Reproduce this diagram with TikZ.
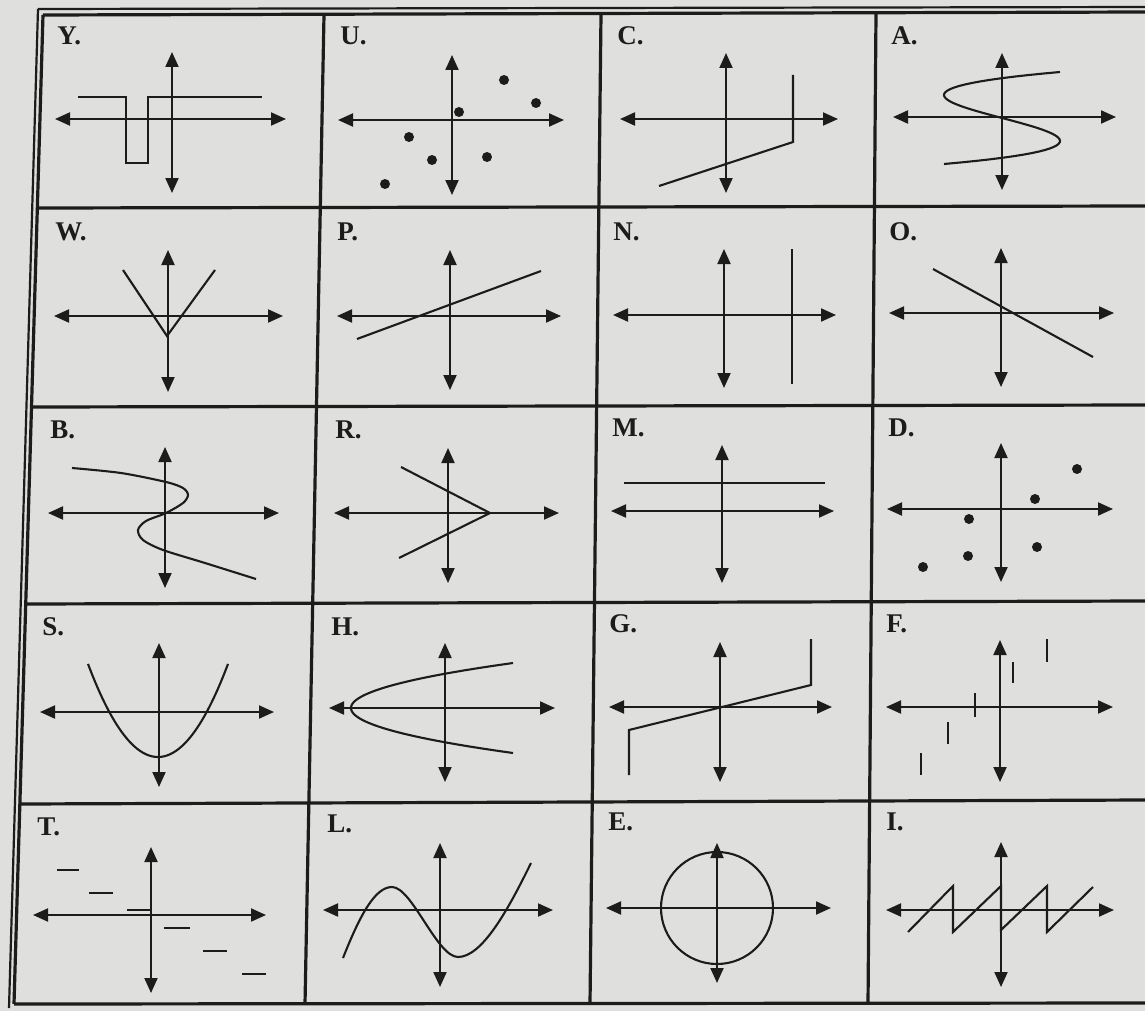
\documentclass[tikz,border=0pt]{standalone}
\usepackage{fontspec}
\setmainfont{Liberation Serif}
\usetikzlibrary{arrows.meta}
\definecolor{paper}{RGB}{223,223,221}
\definecolor{ink}{RGB}{28,28,28}
\begin{document}
\begin{tikzpicture}[x=0.5pt,y=-0.5pt,
    >={Triangle[length=7.5pt,width=6.5pt]},
    axis/.style={<->,draw=ink,line width=1pt},
    curve/.style={draw=ink,line width=1.05pt},
    rule/.style={draw=ink,line width=1.6pt},
    dot/.style={fill=ink},
    lbl/.style={anchor=base west,inner sep=0pt,text=ink,
        font=\fontsize{13.5}{16}\selectfont\bfseries}]

        % Paper
        \fill[paper] (0,0) rectangle (1145,1011);
        \useasboundingbox (0,0) rectangle (1145,1011);

        % Table rules, double outer frame
        \draw[rule,line width=1.1pt] (38,9) -- (1145,7);
        \draw[rule,line width=1.1pt] (38,9) -- (9,1008);
        \draw[rule] (43,15) -- (1145,12);
        \draw[rule] (37,208) -- (1145,206);
        \draw[rule] (32,407) -- (1145,405);
        \draw[rule] (26,604) -- (1145,601);
        \draw[rule] (20,804) -- (1145,800);
        \draw[rule] (14,1004) -- (1145,1003);
        \draw[rule] (43,15) -- (14,1004);
        \draw[rule] (324,15) -- (305,1004);
        \draw[rule] (601,14) -- (590,1004);
        \draw[rule] (876,13) -- (868,1004);

        % Y
        \node[lbl] (lblY) at (57,45) {Y.};
        \draw[axis] (172,52) -- (172,193);
        \draw[axis] (55,119) -- (286,119);
        \draw[curve] (78,97) -- (126,97) -- (126,163) -- (148,163) -- (148,97) -- (262,97);

        % U
        \node[lbl] (lblU) at (340,45) {U.};
        \draw[axis] (452,55) -- (452,195);
        \draw[axis] (338,120) -- (564,120);
        \foreach \p in {(504,80),(536,103),(459,112),(409,137),(432,160),(487,157),(385,184)}
            \fill[dot] \p circle (2.5pt);

        % C
        \node[lbl] (lblC) at (617,45) {C.};
        \draw[axis] (726,53) -- (726,193);
        \draw[axis] (620,119) -- (838,119);
        \draw[curve] (659,186) -- (793,142) -- (793,75);

        % A
        \node[lbl] (lblA) at (891,45) {A.};
        \draw[axis] (1002,53) -- (1002,190);
        \draw[axis] (893,117) -- (1116,117);
        \draw[curve] plot[domain=-2:2,samples=60,variable=\u]
            ({1002-29*(\u*\u*\u-3*\u)},{118+23*\u});

        % W
        \node[lbl] (lblW) at (55,240) {W.};
        \draw[axis] (168,250) -- (168,392);
        \draw[axis] (54,316) -- (283,316);
        \draw[curve] (123,270) -- (167,336) -- (215,270);

        % P
        \node[lbl] (lblP) at (337,240) {P.};
        \draw[axis] (450,250) -- (450,390);
        \draw[axis] (337,316) -- (561,316);
        \draw[curve] (357,339) -- (541,271);

        % N
        \node[lbl] (lblN) at (613,240) {N.};
        \draw[axis] (724,249) -- (724,388);
        \draw[axis] (613,315) -- (836,315);
        \draw[curve] (792,249) -- (792,384);

        % O
        \node[lbl] (lblO) at (889,240) {O.};
        \draw[axis] (1001,248) -- (1001,387);
        \draw[axis] (889,313) -- (1114,313);
        \draw[curve] (933,269) -- (1093,357);

        % B
        \node[lbl] (lblB) at (50,438) {B.};
        \draw[axis] (165,447) -- (165,588);
        \draw[axis] (48,513) -- (279,513);
        \draw[curve] plot[smooth] coordinates {(72,468) (121,473) (166,482) (183,488)
            (188,495) (183,503) (166,513) (146,521) (138,530) (143,540) (163,550)
            (205,563) (256,579)};

        % R
        \node[lbl] (lblR) at (335,438) {R.};
        \draw[axis] (448,448) -- (448,583);
        \draw[axis] (334,513) -- (559,513);
        \draw[curve] (401,467) -- (490,513) -- (399,558);

        % M
        \node[lbl] (lblM) at (612,436) {M.};
        \draw[axis] (722,445) -- (722,583);
        \draw[axis] (611,511) -- (834,511);
        \draw[curve] (624,483) -- (825,483);

        % D
        \node[lbl] (lblD) at (888,436) {D.};
        \draw[axis] (1001,443) -- (1001,582);
        \draw[axis] (887,509) -- (1113,509);
        \foreach \p in {(1077,469),(1035,499),(969,519),(1037,547),(968,556),(923,567)}
            \fill[dot] \p circle (2.5pt);

        % S
        \node[lbl] (lblS) at (42,635) {S.};
        \draw[axis] (159,643) -- (159,787);
        \draw[axis] (40,712) -- (274,712);
        \draw[curve] plot[domain=-70:70,samples=60] ({158+\x},{757-0.019*\x*\x});

        % H
        \node[lbl] (lblH) at (331,635) {H.};
        \draw[axis] (445,643) -- (445,782);
        \draw[axis] (329,708) -- (555,708);
        \draw[curve] plot[domain=-45:45,samples=60,variable=\t] ({351+0.08*\t*\t},{708+\t});

        % G
        \node[lbl] (lblG) at (609,632) {G.};
        \draw[axis] (720,642) -- (720,782);
        \draw[axis] (609,707) -- (832,707);
        \draw[curve] (629,775) -- (629,730) -- (811,685) -- (811,639);

        % F
        \node[lbl] (lblF) at (886,632) {F.};
        \draw[axis] (1000,640) -- (1000,782);
        \draw[axis] (886,707) -- (1113,707);
        \foreach \x/\ya/\yb in {1047/639/662,1013/662/683,975/693/717,948/722/744,921/753/775}
            \draw[curve] (\x,\ya) -- (\x,\yb);

        % T
        \node[lbl] (lblT) at (37,835) {T.};
        \draw[axis] (151,847) -- (151,993);
        \draw[axis] (33,915) -- (266,915);
        \foreach \xa/\xb/\y in {57/79/870,89/113/893,127/151/910,164/190/928,203/227/951,242/266/974}
            \draw[curve] (\xa,\y) -- (\xb,\y);

        % L
        \node[lbl] (lblL) at (327,832) {L.};
        \draw[axis] (440,843) -- (440,987);
        \draw[axis] (323,910) -- (553,910);
        \draw[curve] (343,958) .. controls (360,915) and (375,887) .. (392,887)
            .. controls (412,887) and (437,957) .. (458,957)
            .. controls (482,957) and (508,910) .. (531,863);

        % E
        \node[lbl] (lblE) at (608,830) {E.};
        \draw[axis] (717,843) -- (717,983);
        \draw[axis] (606,908) -- (831,908);
        \draw[curve] (717,908) circle (28pt);

        % I
        \node[lbl] (lblI) at (886,830) {I.};
        \draw[axis] (1001,842) -- (1001,987);
        \draw[axis] (886,910) -- (1114,910);
        \draw[curve] (908,932) -- (953,886) -- (953,932) -- (1001,886) -- (1001,930)
            -- (1047,886) -- (1047,932) -- (1093,887);

    \end{tikzpicture}
\end{document}
